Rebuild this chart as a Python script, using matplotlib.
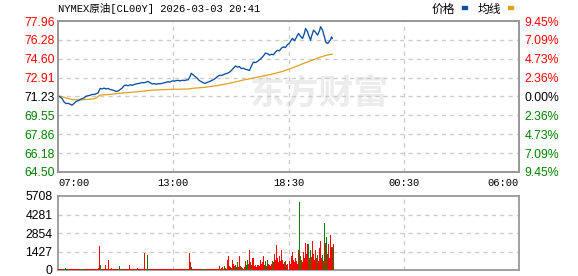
import numpy as np
import matplotlib
matplotlib.use("Agg")
import matplotlib.pyplot as plt

# ---- data ----
title = "NYMEX原油[CL00Y] 2026-03-03 20:41"
prev_close = 71.23
price_ticks = [64.50, 66.18, 67.86, 69.55, 71.23, 72.91, 74.60, 76.28, 77.96]
price_labels = ["64.50", "66.18", "67.86", "69.55", "71.23", "72.91", "74.60", "76.28", "77.96"]
pct_labels = ["9.45%", "7.09%", "4.73%", "2.36%", "0.00%", "2.36%", "4.73%", "7.09%", "9.45%"]
time_ticks = [0, 345, 690, 1035, 1380]          # minutes since 07:00 (axis spans 23 h)
time_labels = ["07:00", "13:00", "18:30", "00:30", "06:00"]
vol_ticks = [0, 1427, 2854, 4281, 5708]

# price line (minute, price)
price_t = [0, 6, 12, 18, 24, 30, 36, 42, 48, 54, 60, 66, 72, 78, 84, 90, 96, 102, 108, 114,
           120, 126, 132, 138, 144, 150, 156, 162, 168, 174, 180, 186, 192, 198, 204, 210, 216,
           222, 228, 234, 240, 246, 252, 258, 264, 270, 276, 282, 288, 294, 300, 306, 312, 318,
           324, 330, 336, 342, 348, 354, 360, 366, 372, 378, 384, 390, 396, 399, 405, 411, 417,
           423, 429, 435, 441, 447, 453, 459, 465, 471, 477, 483, 489, 495, 501, 507, 513, 519,
           525, 531, 537, 543, 549, 555, 561, 567, 573, 579, 585, 591, 597, 603, 609, 615, 621,
           627, 633, 639, 645, 651, 657, 663, 669, 675, 681, 687, 693, 699, 702, 708, 711, 717,
           720, 726, 732, 738, 741, 747, 750, 756, 759, 765, 771, 777, 783, 786, 789, 792, 798,
           801, 807, 810, 816, 819, 821]
price_v = [71.30, 71.20, 71.05, 70.75, 70.60, 70.62, 70.55, 70.45, 70.62, 70.78, 70.85, 70.95,
           71.05, 71.10, 71.25, 71.30, 71.33, 71.42, 71.40, 71.48, 71.55, 71.95, 71.90, 71.98,
           71.90, 71.95, 71.85, 71.82, 71.75, 71.68, 71.72, 71.85, 71.98, 72.20, 72.25, 72.18,
           72.28, 72.22, 72.30, 72.35, 72.38, 72.42, 72.48, 72.45, 72.52, 72.58, 72.45, 72.35,
           72.38, 72.32, 72.38, 72.36, 72.40, 72.45, 72.50, 72.55, 72.52, 72.62, 72.60, 72.65,
           72.66, 72.62, 72.68, 72.65, 72.70, 72.72, 73.05, 73.30, 73.15, 73.00, 72.85, 72.65,
           72.55, 72.45, 72.40, 72.50, 72.55, 72.65, 72.72, 72.85, 73.00, 73.12, 73.10, 73.18,
           73.25, 73.30, 73.40, 73.55, 73.75, 73.95, 73.85, 73.90, 73.72, 73.75, 73.65, 73.62,
           73.55, 73.95, 74.30, 74.25, 74.35, 74.50, 74.65, 74.85, 75.10, 75.05, 74.92, 75.00,
           74.95, 75.20, 75.35, 75.30, 75.55, 75.65, 75.60, 75.85, 76.00, 76.30, 76.42, 76.20,
           76.35, 76.70, 76.85, 76.60, 76.40, 76.90, 77.30, 77.00, 76.70, 76.25, 76.60, 77.15,
           76.95, 76.70, 77.10, 77.45, 77.30, 77.15, 76.50, 76.10, 75.95, 76.05, 76.30, 76.55,
           76.40]

# average line (minute, price)
avg_t = [0, 15, 30, 45, 66, 90, 105, 114, 126, 150, 177, 210, 252, 282, 342, 390, 402, 440,
         480, 520, 552, 580, 612, 640, 670, 696, 720, 735, 760, 786, 805, 821]
avg_v = [71.28, 71.20, 71.05, 70.95, 70.92, 70.98, 71.00, 71.10, 71.36, 71.40, 71.50, 71.58,
         71.70, 71.80, 71.87, 71.90, 71.96, 72.05, 72.22, 72.45, 72.68, 72.85, 73.05, 73.22,
         73.45, 73.72, 74.00, 74.18, 74.45, 74.75, 74.92, 75.00]

# volume, one bar per 3 minutes starting at 07:00
volume = [60, 50, 70, 60, 80, 60, 90, 150, 70, 60, 50, 60, 70, 60, 80, 70, 60, 50, 60, 70,
          60, 70, 80, 60, 50, 60, 70, 60, 60, 80, 70, 60, 50, 70, 60, 60, 70, 80, 60, 70,
          120, 1850, 400, 80, 70, 60, 90, 420, 80, 70, 770, 90, 60, 150, 70, 60, 80, 60, 70, 60,
          70, 270, 80, 60, 70, 60, 100, 70, 60, 80, 70, 350, 60, 70, 60, 80, 60, 70, 60, 150,
          70, 60, 80, 60, 70, 60, 1330, 80, 70, 1130, 90, 60, 70, 60, 80, 60, 70, 60, 50, 60,
          70, 60, 80, 60, 70, 60, 50, 60, 70, 60, 80, 60, 70, 60, 60, 70, 80, 60, 70, 100,
          60, 70, 60, 80, 60, 70, 60, 50, 60, 70, 80, 1330, 600, 200, 70, 60, 80, 60, 70, 60,
          70, 60, 80, 60, 70, 60, 50, 60, 70, 60, 80, 60, 70, 60, 70, 80, 60, 70, 60, 80,
          100, 285, 100, 150, 200, 80, 300, 150, 100, 750, 1060, 300, 200, 150, 750, 490, 300, 400, 250, 600,
          200, 1060, 300, 200, 150, 100, 250, 700, 400, 750, 500, 1530, 600, 400, 960, 900, 300, 400, 250, 400,
          400, 300, 750, 500, 600, 1060, 400, 700, 300, 800, 500, 400, 300, 500, 700, 600, 1220, 800, 1920, 930,
          600, 1060, 700, 1580, 800, 500, 600, 670, 400, 450, 700, 500, 1060, 1370, 800, 600, 900, 700, 500, 1580,
          5260, 1060, 800, 600, 1400, 900, 2070, 1200, 1970, 2000, 900, 1580, 1000, 2250, 1270, 800, 1580, 900, 1140, 700,
          1660, 2230, 900, 1140, 700, 3630, 2050, 2510, 1200, 2000, 900, 2700, 1740, 1800, 2000]
green_bars = [5, 6, 7, 8, 22, 23, 24, 42, 61, 62, 89, 90, 133, 145, 146, 147, 165, 166, 173,
              176, 179, 183, 185, 188, 189, 193, 207, 209, 214, 227, 240, 241, 249, 251, 258,
              263, 265, 267, 273]

RED = "#ff0000"
GREEN = "#008000"
DARK = "#000000"
GRID = "#cccccc"
SPINE = "#999999"
num_font = "Liberation Sans"
mono = ["Liberation Mono", "Noto Sans CJK SC"]

fig = plt.figure(figsize=(5.78, 2.76), dpi=100)
ax = fig.add_axes([58 / 578, 1 - 172 / 276, 461 / 578, 151 / 276])
axv = fig.add_axes([58 / 578, 1 - 270 / 276, 461 / 578, 74 / 276])

# watermark, behind the lines
ax.text(250 / 578, 1 - 93 / 276, "东方财富", transform=fig.transFigure,
        family=["Noto Sans CJK SC"], fontsize=25, fontweight="bold", color="#ececec",
        va="center", ha="left", zorder=0)

# ---- price panel ----
ax.plot(avg_t, avg_v, color="#e0a020", lw=0.9, zorder=3)
ax.plot(price_t, price_v, color="#0b4ea2", lw=0.95, zorder=4)
ax.set_xlim(0, 1380)
ax.set_ylim(price_ticks[0], price_ticks[-1])
ax.set_yticks(price_ticks)
ax.set_yticklabels(price_labels, fontfamily=num_font, fontsize=8.8)
for lab, v in zip(ax.get_yticklabels(), price_ticks):
    lab.set_color(RED if v > prev_close else (GREEN if v < prev_close else DARK))
ax.tick_params(axis="y", length=0, pad=2)
ax.set_xticks(time_ticks)
ax.set_xticklabels(time_labels, fontfamily=mono, fontsize=7.6)
ax.tick_params(axis="x", length=0, pad=4)
xl = ax.get_xticklabels()
xl[0].set_horizontalalignment("left")
xl[-1].set_horizontalalignment("right")

ax2 = ax.twinx()
ax2.set_ylim(price_ticks[0], price_ticks[-1])
ax2.set_yticks(price_ticks)
ax2.set_yticklabels(pct_labels, fontfamily=num_font, fontsize=8.8)
for lab, v in zip(ax2.get_yticklabels(), price_ticks):
    lab.set_color(RED if v > prev_close else (GREEN if v < prev_close else DARK))
ax2.tick_params(axis="y", length=0, pad=4)

for v in price_ticks[1:-1]:
    ax.axhline(v, color=GRID, lw=1, ls=(0, (3, 3)), zorder=1)
for t in time_ticks[1:-1]:
    ax.axvline(t, color=GRID, lw=1, ls=(0, (3, 3)), zorder=1)

# ---- volume panel ----
bar_t = np.arange(len(volume)) * 3 + 1.5
cols = [GREEN if i in green_bars else RED for i in range(len(volume))]
axv.bar(bar_t, volume, width=3, color=cols, linewidth=0, zorder=3)
axv.set_xlim(0, 1380)
axv.set_ylim(0, vol_ticks[-1])
axv.set_yticks(vol_ticks)
axv.set_yticklabels([str(v) for v in vol_ticks], fontfamily=num_font, fontsize=8.8, color=DARK)
axv.tick_params(axis="y", length=0, pad=4)
axv.set_xticks([])
for v in vol_ticks[1:-1]:
    axv.axhline(v, color=GRID, lw=1, ls=(0, (3, 3)), zorder=1)
for t in time_ticks[1:-1]:
    axv.axvline(t, color=GRID, lw=1, ls=(0, (3, 3)), zorder=1)

for a in (ax, ax2, axv):
    for s in a.spines.values():
        s.set_color(SPINE)
        s.set_linewidth(1.3)

# ---- texts ----
fig.text(58 / 578, 1 - 9 / 276, title, family=mono, fontsize=7.6, va="center", ha="left")
fig.text(432 / 578, 1 - 9 / 276, "价格", family=["Noto Sans CJK SC"], fontsize=8.5, va="center")
fig.text(478 / 578, 1 - 9 / 276, "均线", family=["Noto Sans CJK SC"], fontsize=8.5, va="center")
fig.patches.append(plt.Rectangle((462 / 578, 1 - 9 / 276), 5 / 578, 2.5 / 276,
                                 transform=fig.transFigure, color="#0b4ea2"))
fig.patches.append(plt.Rectangle((508 / 578, 1 - 9 / 276), 5 / 578, 2.5 / 276,
                                 transform=fig.transFigure, color="#e0a020"))

fig.savefig("out.png", dpi=100)
